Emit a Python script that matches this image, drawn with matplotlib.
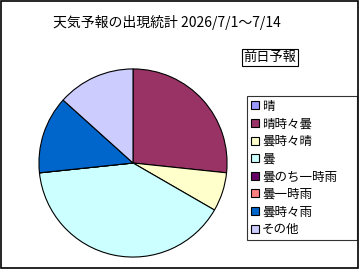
import matplotlib
matplotlib.use("Agg")
import matplotlib.pyplot as plt
from matplotlib.lines import Line2D
from matplotlib.patches import Rectangle

plt.rcParams['font.family'] = ['Noto Sans CJK JP', 'DejaVu Sans']

title = "天気予報の出現統計 2026/7/1～7/14"
legend_title = "前日予報"
categories = ["晴", "晴時々曇", "曇時々晴", "曇", "曇のち一時雨", "曇一時雨", "曇時々雨", "その他"]
values = [0, 4, 1, 6, 0, 0, 2, 2]
colors = ["#9999FF", "#993366", "#FFFFCC", "#CCFFFF", "#660066", "#FF8080", "#0066CC", "#CCCCFF"]

W, H = 360, 269
fig = plt.figure(figsize=(W / 100, H / 100), dpi=100)

# outer border
fig.patches.append(Rectangle((0.5 / W, 1.5 / H), (W - 2.5) / W, (H - 2.5) / H, transform=fig.transFigure,
                             fill=False, edgecolor="black", linewidth=1.2))

cx, cy, r = 133, 163, 95
ax = fig.add_axes([(cx - r) / W, (H - cy - r) / H, 2 * r / W, 2 * r / H])
ax.pie(values, colors=colors, startangle=90, counterclock=False,
       wedgeprops=dict(edgecolor="black", linewidth=0.8))
ax.set_xlim(-1.01, 1.01)
ax.set_ylim(-1.01, 1.01)
ax.set_aspect("equal")
ax.axis("off")

fig.text(167 / W, 1 - 23 / H, title, ha="center", va="center", fontsize=10)

fig.text(270 / W, 1 - 57.5 / H, legend_title, ha="center", va="center", fontsize=9.5,
         bbox=dict(boxstyle="square,pad=0.15", facecolor="white", edgecolor="black", linewidth=0.8))

handles = [Line2D([], [], marker="s", linestyle="none", markersize=5.5,
                  markerfacecolor=c, markeredgecolor="black", markeredgewidth=0.8) for c in colors]
leg = fig.legend(handles, categories, loc="upper left",
                 bbox_to_anchor=(247 / W, (H - 239) / H, 110 / W, 143 / H), mode="expand",
                 fontsize=9, frameon=True, fancybox=False, handlelength=0.6, handletextpad=0.3,
                 borderpad=0.3, labelspacing=0.37, borderaxespad=0)
frame = leg.get_frame()
frame.set_edgecolor("black")
frame.set_linewidth(0.8)

fig.savefig("out.png", dpi=100)
